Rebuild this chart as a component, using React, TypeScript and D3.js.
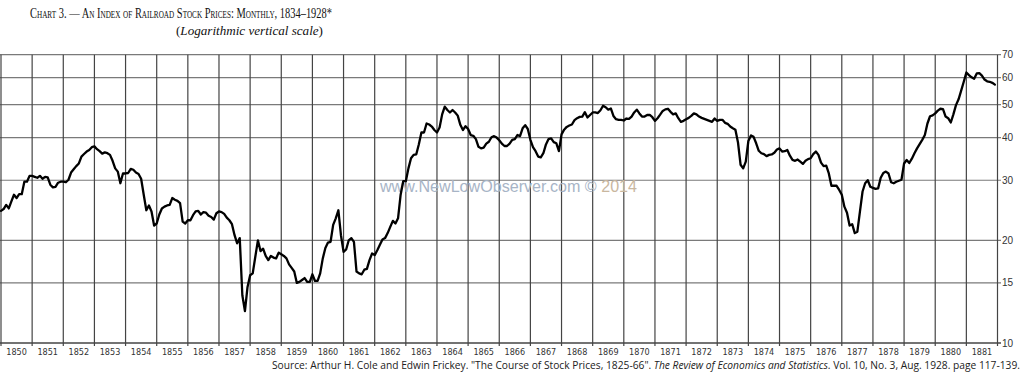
import React from "react";
import * as d3 from "d3";

// Year labels on the bottom axis (each label sits in the middle of its year)
const yearLabels = [
  1850, 1851, 1852, 1853, 1854, 1855, 1856, 1857, 1858, 1859,
  1860, 1861, 1862, 1863, 1864, 1865, 1866, 1867, 1868, 1869,
  1870, 1871, 1872, 1873, 1874, 1875, 1876, 1877, 1878, 1879,
  1880, 1881,
];

// Logarithmic vertical scale ticks (right side)
const priceTicks = [10, 15, 20, 30, 40, 50, 60, 70];

// Monthly index values, Jan 1850 – Dec 1859
const prices1850s = [
  24.4, 24.7, 25.4, 24.8, 26.0, 27.2, 26.6, 27.3, 27.3, 29.7, 29.7, 30.9,
  30.9, 30.7, 30.5, 30.9, 30.3, 30.7, 30.6, 29.1, 28.6, 28.7, 29.5, 29.7,
  29.7, 29.6, 30.1, 31.6, 32.3, 33.0, 33.6, 35.2, 35.8, 36.4, 36.8, 37.5,
  37.7, 37.0, 36.5, 35.9, 36.2, 36.0, 35.6, 34.2, 32.5, 31.8, 29.4, 31.4,
  31.4, 31.5, 32.4, 32.2, 31.6, 31.3, 30.3, 27.2, 24.5, 25.3, 24.3, 22.1,
  22.4, 23.8, 24.8, 25.1, 25.3, 25.4, 26.6, 26.3, 26.1, 25.7, 22.7, 22.4,
  22.9, 22.9, 23.7, 24.3, 24.4, 23.8, 24.2, 24.1, 23.6, 23.4, 23.0, 24.0,
  24.3, 24.2, 23.9, 23.3, 22.9, 22.3, 20.7, 19.6, 20.3, 13.8, 12.4, 14.6,
  15.8, 16.0, 17.9, 20.0, 18.6, 18.9, 18.0, 17.5, 18.0, 17.8, 17.7, 18.4,
  18.2, 18.0, 17.7, 17.0, 16.6, 16.2, 15.0, 15.1, 15.3, 15.5, 15.1, 15.1,
];

// Jan 1860 – Dec 1869
const prices1860s = [
  15.9, 15.2, 15.2, 16.0, 17.7, 19.0, 19.7, 19.8, 22.2, 23.2, 24.5, 20.7,
  18.5, 18.8, 20.0, 20.3, 19.8, 16.2, 16.0, 15.9, 16.4, 16.5, 17.5, 18.3,
  18.1, 18.7, 19.4, 20.1, 20.3, 21.0, 21.9, 22.8, 22.4, 23.2, 27.2, 29.8,
  29.8, 32.5, 34.8, 35.6, 35.7, 38.2, 41.4, 41.4, 44.0, 43.7, 43.1, 42.1,
  41.4, 42.8, 46.8, 49.3, 48.2, 47.4, 48.2, 47.4, 46.4, 43.6, 42.1, 43.2,
  42.4, 40.7, 40.5, 39.6, 37.6, 37.2, 37.4, 38.4, 38.9, 40.1, 40.4, 40.0,
  39.3, 38.4, 37.8, 37.8, 38.4, 39.4, 39.6, 40.7, 40.4, 42.6, 43.5, 42.4,
  39.4, 37.5, 36.5, 35.2, 35.0, 36.0, 38.2, 39.6, 39.8, 38.8, 38.5, 36.5,
  40.9, 42.2, 43.0, 43.4, 43.7, 45.0, 45.6, 46.0, 46.1, 47.5, 45.8, 46.6,
  47.4, 47.4, 47.2, 48.1, 49.6, 49.1, 48.3, 48.7, 46.3, 45.3, 45.1, 45.1,
];

// Jan 1870 – Dec 1879
const prices1870s = [
  44.9, 45.5, 45.4, 46.1, 47.4, 48.3, 47.1, 46.1, 46.1, 46.6, 46.6, 45.9,
  44.8, 45.6, 46.7, 47.9, 48.4, 48.6, 47.6, 46.8, 47.1, 45.6, 44.5, 44.8,
  45.3, 45.7, 46.3, 47.1, 46.8, 46.1, 45.7, 45.4, 45.1, 44.8, 44.5, 45.5,
  44.8, 45.1, 45.1, 44.2, 43.9, 43.1, 42.6, 42.2, 38.7, 33.3, 32.5, 34.0,
  39.1, 40.6, 40.2, 38.5, 36.6, 36.0, 35.8, 35.3, 35.6, 35.7, 36.1, 36.9,
  37.2, 36.4, 36.5, 36.8, 35.4, 34.4, 34.2, 34.5, 34.0, 33.5, 34.2, 34.6,
  34.8, 35.8, 36.4, 35.6, 33.8, 33.0, 33.1, 31.4, 28.9, 28.9, 28.9, 28.1,
  27.2, 25.1, 24.1, 22.1, 22.3, 21.0, 21.2, 24.3, 27.8, 29.4, 30.0, 28.7,
  28.5, 28.3, 28.4, 30.5, 31.5, 31.8, 31.4, 29.6, 29.4, 29.7, 29.9, 30.1,
  33.6, 34.4, 33.7, 34.7, 36.0, 37.2, 38.3, 39.4, 40.7, 44.0, 46.2, 46.5,
];

// Jan 1880 – Dec 1881
const prices1880s = [
  47.1, 48.0, 48.6, 48.5, 46.1, 45.6, 44.3, 46.8, 49.8, 51.8, 54.9, 58.3,
  62.1, 61.0, 60.1, 59.5, 61.7, 61.8, 60.8, 59.2, 58.5, 58.3, 57.9, 57.2,
];

const W = 1024;
const H = 376;
const LEFT = 1;
const RIGHT = 997.5;
const TOP = 54.7;
const BOTTOM = 343;

export default function App() {
  const all = [...prices1850s, ...prices1860s, ...prices1870s, ...prices1880s];
  const firstYear = yearLabels[0];
  const lastYear = yearLabels[yearLabels.length - 1] + 1;

  const x = d3.scaleLinear().domain([firstYear, lastYear]).range([LEFT, RIGHT]);
  const y = d3.scaleLog().domain([10, 70]).range([BOTTOM, TOP]);

  const data = all.map((v, i) => ({ t: firstYear + i / 12, v }));
  const line = d3
    .line<{ t: number; v: number }>()
    .x((d) => x(d.t))
    .y((d) => y(d.v))
    .curve(d3.curveLinear);

  const boundaries = d3.range(firstYear, lastYear + 1);

  return (
    <svg
      width={W}
      height={H}
      viewBox={`0 0 ${W} ${H}`}
      style={{ position: "fixed", left: 0, top: 0, background: "#ffffff" }}
    >
      <rect x={0} y={0} width={W} height={H} fill="#ffffff" />

      {/* Title */}
      <text
        x={30}
        y={18}
        fontFamily="'Liberation Serif', 'DejaVu Serif', serif"
        fontSize={14.5}
        fill="#111"
        style={{ fontVariant: "small-caps" }}
        textLength={302}
        lengthAdjust="spacingAndGlyphs"
      >
        Chart 3. — An Index of Railroad Stock Prices: Monthly, 1834–1928*
      </text>
      <text
        x={176}
        y={35}
        fontFamily="'Liberation Serif', 'DejaVu Serif', serif"
        fontSize={13}
        fill="#111"
        textLength={147}
        lengthAdjust="spacingAndGlyphs"
      >
        (<tspan fontStyle="italic">Logarithmic vertical scale</tspan>)
      </text>

      {/* Horizontal grid lines (log scale) */}
      {priceTicks.map((p) => (
        <line
          key={`h${p}`}
          x1={0}
          x2={RIGHT + 3.5}
          y1={y(p)}
          y2={y(p)}
          stroke={p === 10 ? "#444" : "#7a7a7a"}
          strokeWidth={p === 10 ? 1.5 : 1.2}
        />
      ))}

      {/* Vertical grid lines at year boundaries */}
      {boundaries.map((yr) => (
        <line
          key={`v${yr}`}
          x1={x(yr)}
          x2={x(yr)}
          y1={TOP}
          y2={BOTTOM + 3}
          stroke="#444"
          strokeWidth={1.2}
        />
      ))}

      {/* Year labels */}
      {yearLabels.map((yr) => (
        <text
          key={`l${yr}`}
          x={x(yr + 0.5)}
          y={355}
          textAnchor="middle"
          fontFamily="'Liberation Sans Narrow', 'DejaVu Sans Condensed', sans-serif"
          fontSize={9}
          fill="#333"
        >
          {yr}
        </text>
      ))}

      {/* Right axis labels */}
      {priceTicks.map((p) => (
        <text
          key={`r${p}`}
          x={1002}
          y={y(p) + 3.5}
          fontFamily="'Liberation Sans', Arial, sans-serif"
          fontSize={10}
          fill="#333"
        >
          {p}
        </text>
      ))}

      {/* Watermark */}
      <text
        x={380}
        y={192}
        fontFamily="'Liberation Sans', Arial, sans-serif"
        fontSize={16}
        fill="#a7b4c6"
        textLength={257}
        lengthAdjust="spacingAndGlyphs"
      >
        www.NewLowObserver.com © <tspan fill="#c9b79f">2014</tspan>
      </text>

      {/* Data line */}
      <path
        d={line(data) || ""}
        fill="none"
        stroke="#000"
        strokeWidth={2.3}
        strokeLinejoin="round"
        strokeLinecap="round"
      />

      {/* Source */}
      <text
        x={272}
        y={369}
        fontFamily="'Open Sans', 'Liberation Sans', sans-serif"
        fontSize={10.5}
        fill="#222"
        textLength={748}
        lengthAdjust="spacingAndGlyphs"
      >
        Source: Arthur H. Cole and Edwin Frickey. "The Course of Stock Prices, 1825-66".{"  "}
        <tspan fontStyle="italic">The Review of Economics and Statistics</tspan>. Vol. 10, No. 3, Aug. 1928. page 117-139.
      </text>
    </svg>
  );
}
